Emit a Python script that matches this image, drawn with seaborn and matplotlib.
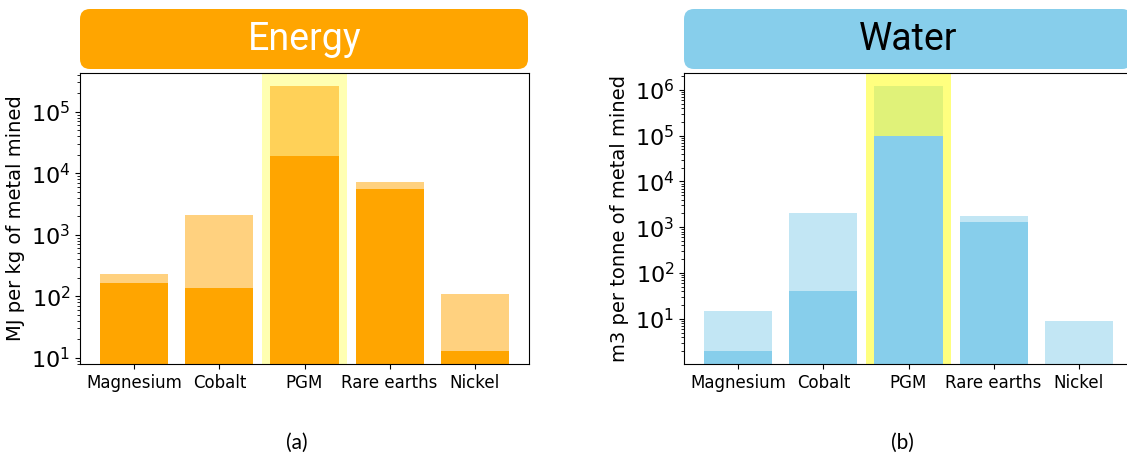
import numpy as np
import pandas as pd
import seaborn as sns
import matplotlib.pyplot as plt
from matplotlib.patches import FancyBboxPatch

plt.rcParams['font.family'] = 'DejaVu Sans'

# Values (log scale, upper and lower estimate per metal)
metals = ['Magnesium', 'Cobalt', 'PGM', 'Rare earths', 'Nickel']
energy_high = [228, 2100, 2.6e5, 7200, 110]
energy_low = [162, 138, 1.9e4, 5500, 13]
water_high = [15, 2000, 1.2e6, 1800, 9]
water_low = [2, 41, 1.0e5, 1300, np.nan]

W, H = 1127, 455
fig = plt.figure(figsize=(W / 100, H / 100), dpi=100)


def px(x, y, w, h):
    # pixel box (top-left origin) -> figure fraction
    return [x / W, 1 - (y + h) / H, w / W, h / H]


def draw_panel(left, title, color, text_color, high, low, ylabel, ylim,
               span_alpha, span_z, caption, cap_x):
    ax = fig.add_axes(px(left, 73, 449, 291))
    ax.set_yscale('log')
    df = pd.DataFrame({'metal': metals, 'high': high, 'low': low})

    sns.barplot(data=df, x='metal', y='high', order=metals, color=color,
                alpha=0.5, saturation=1, errorbar=None, width=0.8,
                linewidth=0, zorder=1, ax=ax)
    sns.barplot(data=df, x='metal', y='low', order=metals, color=color,
                saturation=1, errorbar=None, width=0.8,
                linewidth=0, zorder=2, ax=ax)

    # highlight PGM
    ax.axvspan(1.5, 2.5, color='yellow', alpha=span_alpha, lw=0, zorder=span_z)

    ax.set_xlim(-0.64, 4.64)
    ax.set_ylim(*ylim)
    ax.set_xlabel('')
    ax.set_ylabel(ylabel, fontsize=14)
    ax.tick_params(axis='x', labelsize=12)
    ax.tick_params(axis='y', labelsize=16)

    # rounded title box above the axes
    box = FancyBboxPatch((left / W, 1 - 69 / H), 448 / W, 60 / H,
                         boxstyle='round,pad=0,rounding_size=%f' % (10 / W),
                         mutation_aspect=W / H, transform=fig.transFigure,
                         facecolor=color, edgecolor='none')
    fig.add_artist(box)
    fig.text((left + 224.5) / W, 1 - 50 / H, title, ha='center', va='baseline',
             fontsize=27, color=text_color, family='Roboto', weight='normal')

    fig.text(cap_x / W, 1 - 443 / H, caption, ha='center', va='center',
             fontsize=15, family='Lato')
    return ax


draw_panel(80, 'Energy', '#FFA500', 'white', energy_high, energy_low,
           'MJ per kg of metal mined', (10 ** 0.9, 10 ** 5.63),
           0.3, 0.5, '(a)', 297)
draw_panel(684, 'Water', '#87CEEB', 'black', water_high, water_low,
           'm3 per tonne of metal mined', (10 ** 0.012, 10 ** 6.368),
           0.5, 1.5, '(b)', 902)

fig.savefig('out.png', dpi=100)
